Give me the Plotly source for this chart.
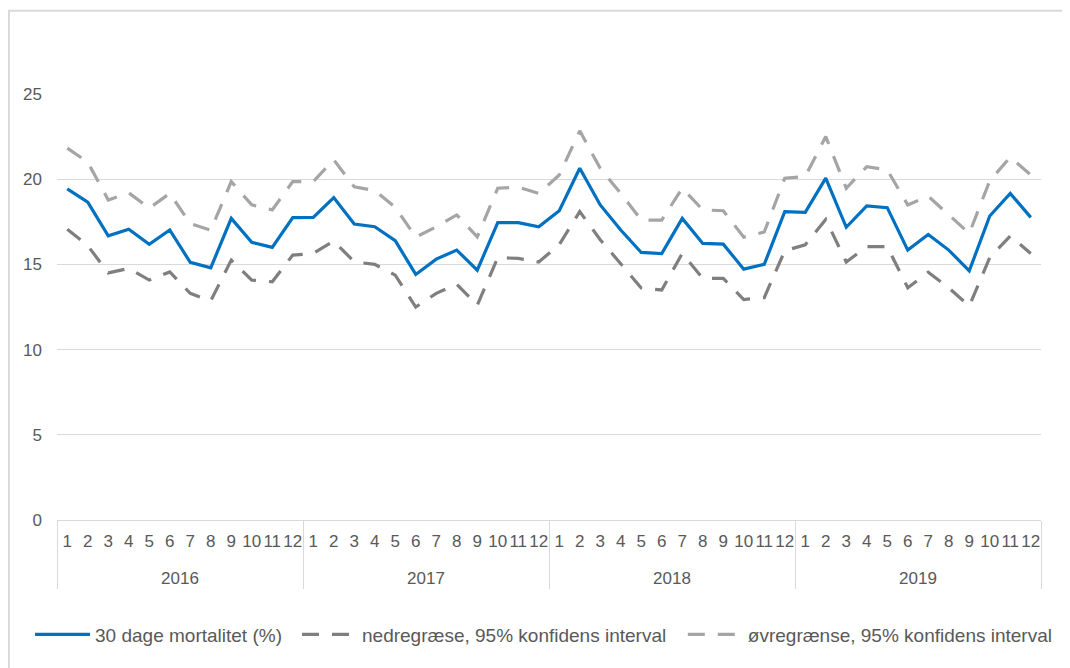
import plotly.graph_objects as go

years = ["2016", "2017", "2018", "2019"]
months = [str(m) for m in range(1, 13)]

mortality = [19.43, 18.65, 16.68, 17.06, 16.18, 17.02, 15.12, 14.80, 17.70, 16.30, 16.00, 17.74,
             17.76, 18.92, 17.37, 17.21, 16.39, 14.41, 15.31, 15.84, 14.66, 17.45, 17.45, 17.21,
             18.15, 20.64, 18.49, 17.02, 15.70, 15.64, 17.70, 16.23, 16.19, 14.72, 15.00, 18.10,
             18.06, 20.06, 17.18, 18.43, 18.33, 15.84, 16.76, 15.84, 14.62, 17.84, 19.17, 17.76]

lower = [17.07, 16.10, 14.50, 14.76, 14.08, 14.56, 13.30, 12.86, 15.25, 14.08, 13.98, 15.55,
         15.64, 16.37, 15.15, 15.00, 14.37, 12.50, 13.30, 13.84, 12.60, 15.40, 15.35, 15.14,
         16.16, 18.10, 16.45, 15.00, 13.62, 13.50, 15.64, 14.18, 14.18, 12.94, 13.05, 15.80,
         16.15, 17.64, 15.14, 16.04, 16.04, 13.63, 14.54, 13.63, 12.55, 15.40, 16.67, 15.64]

upper = [21.82, 21.00, 18.78, 19.20, 18.30, 19.17, 17.40, 17.00, 19.86, 18.49, 18.20, 19.86,
         19.86, 21.14, 19.55, 19.33, 18.35, 16.60, 17.21, 17.90, 16.62, 19.47, 19.53, 19.16,
         20.25, 22.84, 20.64, 19.16, 17.60, 17.60, 19.47, 18.20, 18.15, 16.60, 16.90, 20.06,
         20.16, 22.50, 19.47, 20.74, 20.55, 18.49, 19.00, 17.90, 16.82, 19.90, 21.30, 20.25]

series_names = ["30 dage mortalitet (%)",
                "nedregræse, 95% konfidens interval",
                "øvregrænse, 95% konfidens interval"]

# month labels get an empty second line so the year row sits lower, as in the reference
x_years = [y for y in years for _ in months]
x_months = [m + "<br>&nbsp;" for _ in years for m in months]
x = [x_years, x_months]

FONT = "Liberation Sans"
TXT = "#595959"
GRID = "#d9d9d9"
DASH = "17px,13px"

fig = go.Figure()
fig.add_trace(go.Scatter(x=x, y=mortality, mode="lines", name=series_names[0],
                         legend="legend", line=dict(color="#0070c0", width=3.2)))
fig.add_trace(go.Scatter(x=x, y=lower, mode="lines", name=series_names[1],
                         legend="legend2", line=dict(color="#7f7f7f", width=3.2, dash=DASH)))
fig.add_trace(go.Scatter(x=x, y=upper, mode="lines", name=series_names[2],
                         legend="legend3", line=dict(color="#a5a5a5", width=3.2, dash=DASH)))

leg_common = dict(orientation="h", xanchor="left", y=-0.269, yanchor="middle",
                  font=dict(size=19, color=TXT, family=FONT), itemwidth=55,
                  bgcolor="rgba(0,0,0,0)")

fig.update_layout(
    width=1062, height=660,
    margin=dict(l=49, r=29, t=86, b=148),
    paper_bgcolor="white", plot_bgcolor="white",
    font=dict(family=FONT, color=TXT, size=17),
    showlegend=True,
    legend=dict(x=-0.0274, **leg_common),
    legend2=dict(x=0.2439, **leg_common),
    legend3=dict(x=0.636, **leg_common),
    xaxis=dict(type="multicategory", range=[-0.5, 47.5], showgrid=False, showline=True,
               linecolor=GRID, linewidth=1, ticks="", ticklabelstandoff=6,
               tickangle=0, showdividers=True,
               dividercolor=GRID, dividerwidth=1,
               tickfont=dict(size=17, color=TXT, family=FONT)),
    yaxis=dict(range=[0, 25], dtick=5, tick0=0, showgrid=True, gridcolor=GRID, gridwidth=1,
               zeroline=False, showline=False, ticks="", ticklabelstandoff=14,
               tickfont=dict(size=17, color=TXT, family=FONT)),
    shapes=[dict(type="rect", xref="paper", yref="paper",
                 x0=-0.0488, x1=1.06, y0=-0.4, y1=1.1955,
                 line=dict(color=GRID, width=2), fillcolor="rgba(0,0,0,0)", layer="below")],
)

fig.write_html("out.html")
